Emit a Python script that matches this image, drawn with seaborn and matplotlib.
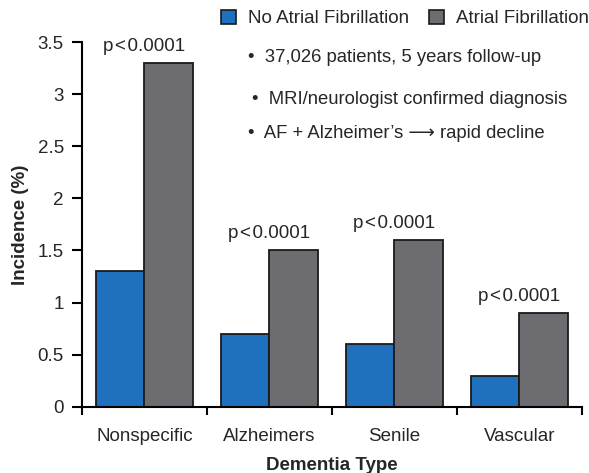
import pandas as pd
import matplotlib.pyplot as plt
import seaborn as sns
from matplotlib.patches import Patch

# data
dementia_types = ["Nonspecific", "Alzheimers", "Senile", "Vascular"]
no_af = [1.3, 0.7, 0.6, 0.3]
af = [3.3, 1.5, 1.6, 0.9]
groups = ["No Atrial Fibrillation", "Atrial Fibrillation"]
p_labels = ["p\u200a<\u200a0.0001"] * 4
bullets = ["37,026 patients, 5 years follow-up",
           "MRI/neurologist confirmed diagnosis",
           "AF + Alzheimer\u2019s \u27f6 rapid decline"]
y_ticks = [0, 0.5, 1, 1.5, 2, 2.5, 3, 3.5]
y_tick_labels = ["0", "0.5", "1", "1.5", "2", "2.5", "3", "3.5"]

colors = ["#1f70bd", "#6d6d71"]

df = pd.DataFrame({
    "type": dementia_types * 2,
    "group": [groups[0]] * 4 + [groups[1]] * 4,
    "value": no_af + af,
})

sns.set_style("ticks")
plt.rcParams["font.family"] = ["Liberation Sans", "DejaVu Sans"]

fig = plt.figure(figsize=(5.89, 4.73), dpi=100)
ax = fig.add_axes([0.139, 0.14, 0.849, 0.771])

sns.barplot(data=df, x="type", y="value", hue="group", palette=colors,
            width=0.77, edgecolor="#1a1a1a", linewidth=1.3, ax=ax,
            saturation=1, legend=False)

fs = 13.5
ax.set_xlim(-0.5, 3.5)
ax.set_ylim(0, 3.5)
ax.set_yticks(y_ticks)
ax.set_yticklabels(y_tick_labels, fontsize=fs)
ax.set_xticks(range(4))
ax.set_xticklabels(dementia_types, fontsize=fs)
ax.tick_params(axis="x", which="major", length=0, pad=15)
ax.set_xticks([-0.5, 0.5, 1.5, 2.5, 3.5], minor=True)
ax.tick_params(axis="x", which="minor", length=6, width=1.5, color="black")
ax.tick_params(axis="y", length=7, width=1.5, color="black", pad=6)
for s in ["top", "right"]:
    ax.spines[s].set_visible(False)
for s in ["left", "bottom"]:
    ax.spines[s].set_linewidth(1.5)
    ax.spines[s].set_color("black")

ax.set_xlabel("Dementia Type", fontsize=fs, fontweight="bold", labelpad=9)
ax.set_ylabel("Incidence (%)", fontsize=fs, fontweight="bold", labelpad=6)

for i, lab in enumerate(p_labels):
    ax.text(i, af[i] + 0.08, lab, ha="center", va="bottom", fontsize=fs)

bullet_pos = [(0.83, 3.35), (0.86, 2.95), (0.83, 2.62)]
for (bx, by), txt in zip(bullet_pos, bullets):
    ax.text(bx, by, "\u2022  " + txt, ha="left", va="center", fontsize=13.3)

handles = [Patch(facecolor=c, edgecolor="#1a1a1a", linewidth=1.2) for c in colors]
fig.legend(handles, groups, loc="upper right", bbox_to_anchor=(1.028, 1.015),
           ncol=2, frameon=False, fontsize=fs, handlelength=0.8,
           handleheight=0.8, handletextpad=0.6, columnspacing=1.1)

fig.savefig("out.png", dpi=100)
